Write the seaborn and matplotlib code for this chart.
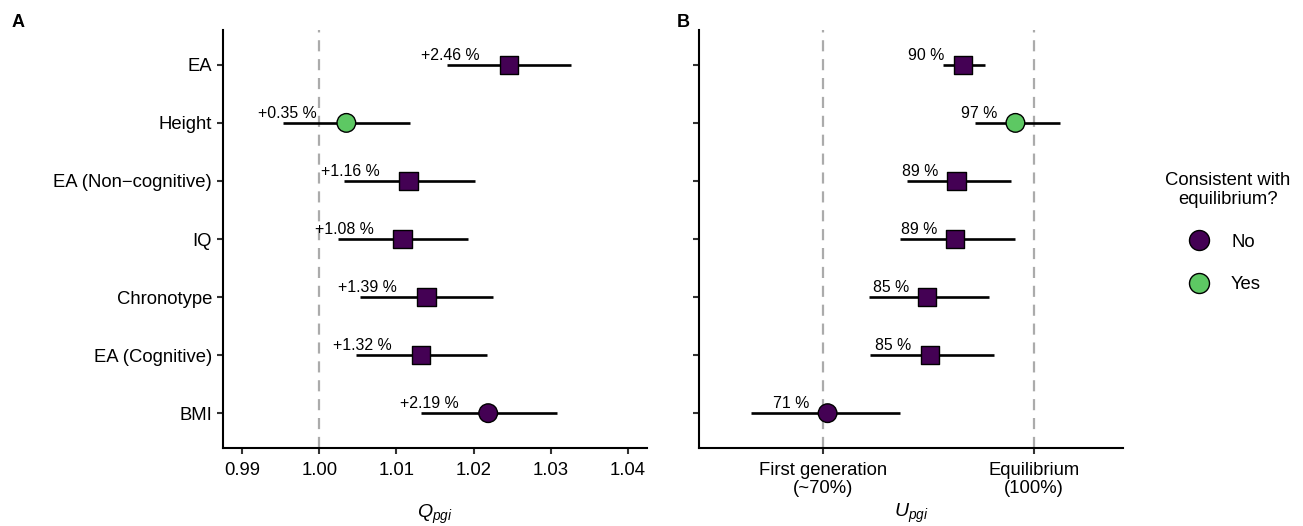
import numpy as np
import pandas as pd
import matplotlib
matplotlib.use("Agg")
import matplotlib.pyplot as plt
from matplotlib.lines import Line2D
import seaborn as sns

# ---- data ----
traits = ["EA", "Height", "EA (Non\u2212cognitive)", "IQ", "Chronotype", "EA (Cognitive)", "BMI"]
q_est = [1.0246, 1.0035, 1.0116, 1.0108, 1.0139, 1.0132, 1.0219]
q_lo = [1.0166, 0.9953, 1.0032, 1.0024, 1.0053, 1.0047, 1.0132]
q_hi = [1.0327, 1.0118, 1.0202, 1.0193, 1.0225, 1.0218, 1.0308]
q_labels = ["+2.46 %", "+0.35 %", "+1.16 %", "+1.08 %", "+1.39 %", "+1.32 %", "+2.19 %"]
u_est = [89.9, 97.4, 89.0, 88.8, 84.8, 85.2, 70.6]
u_lo = [87.0, 91.6, 81.9, 81.0, 76.5, 76.6, 59.6]
u_hi = [93.0, 103.8, 96.8, 97.4, 93.7, 94.4, 81.0]
u_labels = ["90 %", "97 %", "89 %", "89 %", "85 %", "85 %", "71 %"]
consistent = ["No", "Yes", "No", "No", "No", "No", "No"]
shape = ["square", "circle", "square", "square", "square", "square", "circle"]
u_ticks = [70, 100]
u_ticklabels = ["First generation\n(~70%)", "Equilibrium\n(100%)"]
q_ticks = [0.99, 1.00, 1.01, 1.02, 1.03, 1.04]

palette = {"No": "#440154", "Yes": "#5DC863"}
markers = {"circle": "o", "square": "s"}

sns.set_style("ticks")
plt.rcParams["font.family"] = ["Liberation Sans", "DejaVu Sans"]
plt.rcParams["mathtext.fontset"] = "custom"
plt.rcParams["mathtext.it"] = "Liberation Sans:italic"
plt.rcParams["mathtext.rm"] = "Liberation Sans"
plt.rcParams["text.color"] = "black"
plt.rcParams["axes.labelcolor"] = "black"

n = len(traits)
df = pd.DataFrame({
    "trait": traits,
    "ypos": np.arange(n, 0, -1),
    "q": q_est, "q_lo": q_lo, "q_hi": q_hi, "q_lab": q_labels,
    "u": u_est, "u_lo": u_lo, "u_hi": u_hi, "u_lab": u_labels,
    "consistent": consistent, "shape": shape,
})

W, H = 1303, 526
fig = plt.figure(figsize=(W / 100, H / 100), dpi=100)
axA = fig.add_axes([223 / W, (H - 448) / H, (647 - 223) / W, (448 - 30) / H])
axB = fig.add_axes([699 / W, (H - 448) / H, (1123 - 699) / W, (448 - 30) / H])

FS = 13.3
LW_SP = 1.5

def draw(ax, col, lo, hi, lab, offset, vlines):
    for v in vlines:
        ax.axvline(v, color="#ABABAB", lw=1.6, ls=(0, (5, 3.5)), zorder=1)
    ax.hlines(df["ypos"], df[lo], df[hi], color="black", lw=1.9, zorder=2)
    sns.scatterplot(data=df, x=col, y="ypos", hue="consistent", style="shape",
                    palette=palette, markers=markers, s=180, edgecolor="black",
                    linewidth=1.0, legend=False, zorder=3, ax=ax)
    for _, r in df.iterrows():
        ax.text(r[col] - offset, r["ypos"] + 0.09, r[lab], ha="center", va="baseline",
                fontsize=11.4, color="black", zorder=4)
    ax.set_ylim(0.4, n + 0.6)
    ax.set_yticks(df["ypos"])
    for s in ["top", "right"]:
        ax.spines[s].set_visible(False)
    for s in ["left", "bottom"]:
        ax.spines[s].set_linewidth(LW_SP)
        ax.spines[s].set_color("black")
    ax.tick_params(axis="both", length=4.3, width=LW_SP, color="#333333",
                   labelsize=FS, labelcolor="black", pad=3.5)
    ax.tick_params(axis="x", pad=5.5)
    ax.set_ylabel("")

draw(axA, "q", "q_lo", "q_hi", "q_lab", 0.0076, [1.0])
axA.set_xlim(0.9875, 1.0425)
axA.set_xticks(q_ticks)
axA.set_xticklabels([f"{t:.2f}" for t in q_ticks])
axA.set_yticklabels(df["trait"])
axA.set_xlabel("$Q_{pgi}$", fontsize=14, labelpad=17.5)

draw(axB, "u", "u_lo", "u_hi", "u_lab", 5.2, u_ticks)
axB.set_xlim(52.25, 112.75)
axB.set_xticks(u_ticks)
axB.set_xticklabels(u_ticklabels, linespacing=1.12)
axB.set_yticklabels([])
axB.set_xlabel("$U_{pgi}$", fontsize=14, labelpad=3.5)

fig.text(12 / W, 1 - 27 / H, "A", fontsize=13, fontweight="bold", va="baseline")
fig.text(677 / W, 1 - 27 / H, "B", fontsize=13, fontweight="bold", va="baseline")

# legend
fig.text(1228 / W, 1 - 190 / H, "Consistent with\nequilibrium?", ha="center", va="center",
         fontsize=FS, multialignment="center", linespacing=1.15)
handles = [Line2D([], [], marker="o", ls="", markersize=14.4, markerfacecolor=palette[k],
                  markeredgecolor="black", markeredgewidth=1.0) for k in ["No", "Yes"]]
fig.legend(handles, ["No", "Yes"], loc="center left",
           bbox_to_anchor=(1171 / W, 1 - 263.5 / H), frameon=False, fontsize=FS,
           handlelength=1.2, handletextpad=1.15, labelspacing=1.4, borderpad=0.4)

fig.savefig("out.png", dpi=100)
